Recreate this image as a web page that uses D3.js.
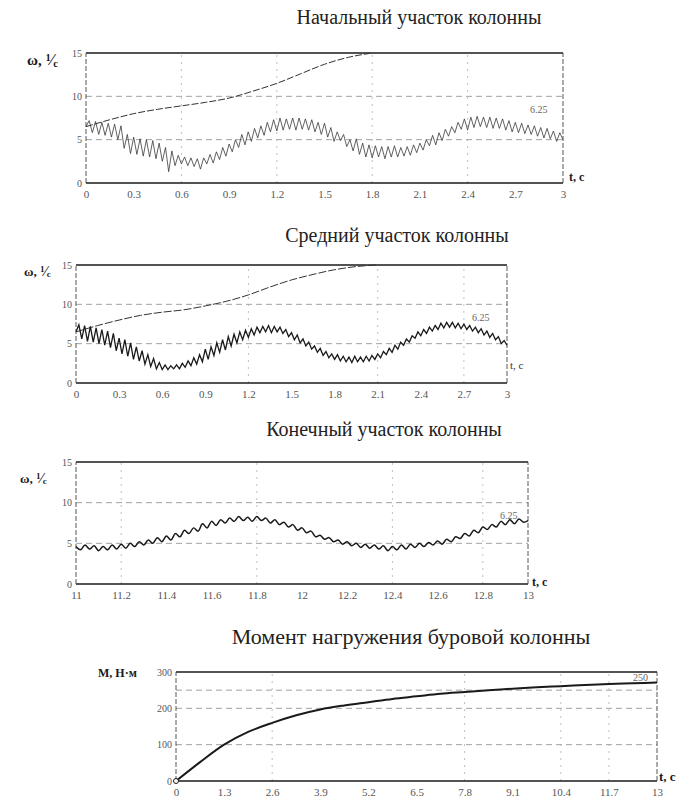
<!DOCTYPE html>
<html><head><meta charset="utf-8">
<script src="https://cdn.jsdelivr.net/npm/d3@7"></script>
<style>
body{margin:0;background:#fff;}
svg{display:block;font-family:"Liberation Serif","DejaVu Serif",serif;}
</style></head><body>
<svg id="c" width="681" height="801"></svg>
<script>
// ---------- data ----------
const titles = ["Начальный участок колонны","Средний участок колонны","Конечный участок колонны","Момент нагружения буровой колонны"];
const omegaTicks = [0,5,10,15];
const ticks1 = [0,0.3,0.6,0.9,1.2,1.5,1.8,2.1,2.4,2.7,3];
const ticks3 = [11,11.2,11.4,11.6,11.8,12,12.2,12.4,12.6,12.8,13];
const ticks4 = [0,1.3,2.6,3.9,5.2,6.5,7.8,9.1,10.4,11.7,13];
const momentTicks = [0,100,200,300];

// chart 1 smooth (upper) curve
const up1T = [0,0.15,0.3,0.45,0.6,0.75,0.9,1.05,1.2,1.35,1.5,1.65,1.8];
const up1V = [6.5,7.3,8.0,8.5,8.9,9.3,9.8,10.6,11.5,12.6,13.7,14.5,15.0];
// chart 1 oscillating curve, sampled every 0.02 s from 0 to 3
const osc1 = [6.5,7.2,5.8,7.1,5.6,7.0,5.5,6.9,5.3,6.8,5.0,6.6,4.0,5.6,3.4,5.3,3.3,5.1,3.1,5.0,
3.0,4.9,2.8,4.6,2.5,4.1,1.3,3.7,2.0,3.2,2.2,3.0,2.0,2.9,1.9,2.8,1.6,2.9,2.2,3.3,
2.3,3.6,2.7,4.1,3.1,4.5,3.6,5.0,4.1,5.6,4.4,5.9,4.8,6.3,5.2,6.6,5.5,7.0,5.9,7.3,
6.0,7.5,6.1,7.4,6.2,7.5,6.1,7.5,6.2,7.4,6.1,7.3,5.9,7.0,5.6,6.9,5.3,6.4,4.8,5.9,
4.9,5.6,4.2,5.0,3.7,5.1,3.3,4.6,3.0,4.4,2.9,4.3,3.0,4.2,2.8,4.2,3.0,4.3,3.0,4.1,
3.1,4.2,3.2,4.4,3.5,4.6,3.8,5.0,4.3,5.5,4.4,5.8,4.9,6.2,5.4,6.5,5.8,7.0,6.2,7.4,
6.1,7.6,6.4,7.7,6.5,7.6,6.4,7.6,6.3,7.5,6.3,7.4,6.1,7.2,5.9,7.0,5.8,6.9,5.7,6.7,
5.6,6.6,5.4,6.4,5.2,6.3,5.1,6.0,4.8,5.8,5.0];

// chart 2 smooth (upper) curve
const up2T = [0,0.15,0.3,0.45,0.6,0.75,0.9,1.05,1.2,1.35,1.5,1.65,1.8,1.95,2.1];
const up2V = [6.5,7.3,8.0,8.6,9.0,9.3,9.8,10.4,11.2,12.2,13.1,13.8,14.4,14.8,15.0];
// chart 2 oscillating curve, every 0.02 s from 0 to 3
const osc2 = [6.5,7.4,5.6,7.3,5.3,7.2,5.2,7.0,5.0,6.8,4.8,6.6,4.5,6.3,4.1,5.7,3.7,5.5,3.4,5.1,
3.0,4.6,2.8,4.1,2.4,3.6,2.1,3.1,1.8,2.6,1.7,2.3,1.7,2.2,1.8,2.3,1.8,2.5,2.0,2.8,
2.2,3.2,2.4,3.6,2.7,4.3,3.0,4.6,3.5,5.1,3.9,5.5,4.2,5.9,4.7,6.2,5.1,6.5,5.5,6.7,
5.8,6.9,6.1,7.1,6.4,7.2,6.5,7.3,6.4,7.2,6.5,7.1,6.3,6.8,5.9,6.4,5.5,6.1,5.1,5.6,
4.7,5.2,4.3,4.7,3.9,4.4,3.5,4.0,3.2,3.7,3.0,3.6,2.8,3.4,2.7,3.3,2.6,3.4,2.7,3.3,
2.7,3.4,2.8,3.5,3.0,3.7,3.2,4.0,3.6,4.4,3.9,4.8,4.3,5.2,4.8,5.6,5.2,6.0,5.7,6.5,
6.0,6.8,6.3,7.1,6.6,7.3,6.8,7.6,7.0,7.7,7.1,7.7,7.0,7.6,6.9,7.5,6.8,7.3,6.6,7.1,
6.4,6.9,6.1,6.6,5.8,6.3,5.5,5.9,5.0,5.4,4.8];

// chart 3 oscillating curve, every 0.02 s from 11 to 13
const osc3 = [4.6,4.2,4.8,4.3,4.7,4.1,4.6,4.2,4.8,4.3,4.9,4.4,5.0,4.6,5.2,4.8,5.4,5.0,5.7,5.2,
5.9,5.4,6.2,5.8,6.6,6.2,6.9,6.5,7.4,6.9,7.7,7.2,7.9,7.5,8.1,7.7,8.3,7.8,8.2,7.7,
8.3,7.8,8.1,7.5,7.9,7.3,7.6,7.0,7.3,6.6,6.9,6.3,6.5,5.8,6.0,5.5,5.7,5.2,5.4,4.9,
5.2,4.7,5.0,4.5,4.9,4.4,4.8,4.3,4.7,4.1,4.6,4.2,4.8,4.3,4.9,4.5,5.0,4.6,5.1,4.8,
5.3,4.9,5.5,5.2,5.8,5.6,6.2,5.9,6.6,6.3,7.0,6.7,7.3,7.0,7.7,7.3,7.9,7.4,8.0,7.6,7.8];

// chart 4 moment curve
const momT = [0,0.65,1.3,1.95,2.6,3.25,3.9,4.55,5.2,5.85,6.5,7.15,7.8,8.45,9.1,9.75,10.4,11.05,11.7,12.35,13];
const momV = [0,52,100,135,160,181,197,208,217,226,233,240,245,250,254,258,261,264,267,269,271];

// ---------- drawing ----------
const svg = d3.select("#c");
const ink = "#1a1a1a";

function panel(o){
  const x = d3.scaleLinear().domain(o.xd).range([o.x0,o.x1]);
  const y = d3.scaleLinear().domain(o.yd).range([o.y0,o.y1]);
  const g = svg.append("g");
  g.selectAll(".hg").data(o.hgrid).join("line")
    .attr("x1",o.x0).attr("x2",o.x1).attr("y1",d=>y(d)).attr("y2",d=>y(d))
    .attr("stroke","#8a8a8a").attr("stroke-width",0.8).attr("stroke-dasharray","6,4");
  g.selectAll(".vg").data(o.vgrid).join("line")
    .attr("y1",o.y0).attr("y2",o.y1).attr("x1",d=>x(d)).attr("x2",d=>x(d))
    .attr("stroke","#b0b0b0").attr("stroke-width",0.8).attr("stroke-dasharray","2,5");
  g.append("line").attr("x1",o.x0).attr("x2",o.x1).attr("y1",o.y1).attr("y2",o.y1).attr("stroke",ink).attr("stroke-width",1.4);
  g.append("line").attr("x1",o.x0).attr("x2",o.x1).attr("y1",o.y0).attr("y2",o.y0).attr("stroke",ink).attr("stroke-width",1.4);
  g.append("line").attr("x1",o.x0).attr("x2",o.x0).attr("y1",o.y0).attr("y2",o.y1).attr("stroke","#444").attr("stroke-width",0.9).attr("stroke-dasharray","5,2");
  g.append("line").attr("x1",o.x1).attr("x2",o.x1).attr("y1",o.y0).attr("y2",o.y1).attr("stroke","#444").attr("stroke-width",0.9).attr("stroke-dasharray","5,2");
  const ax = d3.axisBottom(x).tickValues(o.xt).tickSize(0).tickPadding(7).tickFormat(d=>String(d));
  const ga = g.append("g").attr("transform",`translate(0,${o.y0})`).call(ax);
  ga.select(".domain").remove();
  ga.selectAll("text").attr("font-family","Liberation Serif").attr("font-size",11).attr("fill","#555");
  const ay = d3.axisLeft(y).tickValues(o.yt).tickSize(0).tickPadding(4).tickFormat(d=>String(d));
  const gy = g.append("g").attr("transform",`translate(${o.x0},0)`).call(ay);
  gy.select(".domain").remove();
  gy.selectAll("text").attr("font-family","Liberation Serif").attr("font-size",10).attr("fill","#555");
  return {x,y,g};
}

function omegaLabel(xp,yp,fs){
  const t = svg.append("text").attr("x",xp).attr("y",yp).attr("font-size",fs).attr("fill",ink).attr("font-weight","bold");
  t.append("tspan").text("ω, ");
  t.append("tspan").attr("font-size",fs*0.7).attr("dy",-fs*0.3).text("1");
  t.append("tspan").attr("font-size",fs*1.05).attr("dy",fs*0.3).text("⁄");
  t.append("tspan").attr("font-size",fs*0.7).attr("dy",fs*0.1).text("c");
}
function title(txt,xc,yb,fs){
  svg.append("text").attr("x",xc).attr("y",yb).attr("text-anchor","middle")
    .attr("font-size",fs).attr("fill","#222").text(txt);
}
function note(txt,xp,yp,fs,bold,col){
  svg.append("text").attr("x",xp).attr("y",yp).attr("font-size",fs).attr("fill",col||(bold?ink:"#666"))
    .attr("font-weight",bold?"bold":"normal").text(txt);
}
const stepT = (t0,n)=>d3.range(n).map(i=>+(t0+i*0.02).toFixed(2));

// ---- Chart 1 ----
title(titles[0],419,24,20);
const p1 = panel({xd:[0,3],yd:[0,15],x0:86,x1:563,y0:183,y1:53,xt:ticks1,yt:omegaTicks,hgrid:[5,10],vgrid:[0.6,1.2,1.8,2.4]});
p1.g.append("path").datum(up1T.map((t,i)=>[t,up1V[i]]))
  .attr("d",d3.line().x(d=>p1.x(d[0])).y(d=>p1.y(d[1])).curve(d3.curveMonotoneX))
  .attr("fill","none").attr("stroke","#333").attr("stroke-width",1).attr("stroke-dasharray","7,2");
const t1 = stepT(0,osc1.length);
p1.g.append("path").datum(osc1.map((v,i)=>[t1[i],v]))
  .attr("d",d3.line().x(d=>p1.x(d[0])).y(d=>p1.y(d[1])))
  .attr("fill","none").attr("stroke","#3a3a3a").attr("stroke-width",0.8);
omegaLabel(27,65,15);
note("t, c",569,181,12,true);
note("6.25",530,113,10,false);

// ---- Chart 2 ----
title(titles[1],397,242,20);
const p2 = panel({xd:[0,3],yd:[0,15],x0:76,x1:507,y0:383,y1:265,xt:ticks1,yt:omegaTicks,hgrid:[5,10],vgrid:[1.2,2.1,2.7]});
p2.g.append("path").datum(up2T.map((t,i)=>[t,up2V[i]]))
  .attr("d",d3.line().x(d=>p2.x(d[0])).y(d=>p2.y(d[1])).curve(d3.curveMonotoneX))
  .attr("fill","none").attr("stroke","#333").attr("stroke-width",1).attr("stroke-dasharray","8,2");
const t2 = stepT(0,osc2.length);
p2.g.append("path").datum(osc2.map((v,i)=>[t2[i],v]))
  .attr("d",d3.line().x(d=>p2.x(d[0])).y(d=>p2.y(d[1])))
  .attr("fill","none").attr("stroke",ink).attr("stroke-width",1.3);
omegaLabel(24,276,13);
note("t, c",510,369,11,false,"#333");
note("6.25",472,321,10,false);

// ---- Chart 3 ----
title(titles[2],384,436,20);
const p3 = panel({xd:[11,13],yd:[0,15],x0:76,x1:528,y0:584,y1:462,xt:ticks3,yt:omegaTicks,hgrid:[5,10],vgrid:[11.2,11.8,12.4,12.8]});
const t3 = stepT(11,osc3.length);
p3.g.append("path").datum(osc3.map((v,i)=>[t3[i],v]))
  .attr("d",d3.line().x(d=>p3.x(d[0])).y(d=>p3.y(d[1])).curve(d3.curveCatmullRom))
  .attr("fill","none").attr("stroke",ink).attr("stroke-width",1.5);
omegaLabel(20,483,13);
note("t, c",532,586,12,true);
note("6.25",500,519,10,false);

// ---- Chart 4 ----
title(titles[3],411,644,22);
const p4 = panel({xd:[0,13],yd:[0,300],x0:176,x1:657,y0:781,y1:672,xt:ticks4,yt:momentTicks,hgrid:[100,200,250],vgrid:[2.6,7.8,10.4,11.7]});
p4.g.append("path").datum(momT.map((t,i)=>[t,momV[i]]))
  .attr("d",d3.line().x(d=>p4.x(d[0])).y(d=>p4.y(d[1])).curve(d3.curveMonotoneX))
  .attr("fill","none").attr("stroke",ink).attr("stroke-width",2);
p4.g.append("circle").attr("cx",p4.x(momT[0])).attr("cy",p4.y(momV[0])).attr("r",2.5)
  .attr("fill","#fff").attr("stroke",ink).attr("stroke-width",1);
note("M, H·м",98,677,12,true);
note("t, c",659,781,13,true);
note("250",633,681,10,false);
</script>
</body></html>
